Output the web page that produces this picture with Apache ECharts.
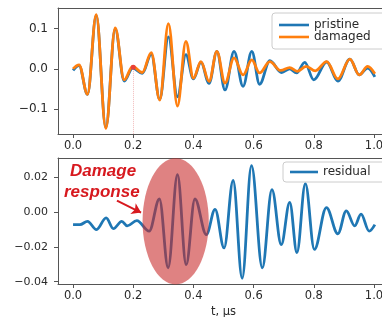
<!DOCTYPE html>
<html><head><meta charset="utf-8">
<script src="https://cdn.jsdelivr.net/npm/echarts@6/dist/echarts.min.js"></script>
<style>html,body{margin:0;padding:0;background:#fff;}#c{width:382px;height:317px;}</style>
</head><body><div id="c"></div>
<script>
// ---- data ----
const xTicks = [0, 0.2, 0.4, 0.6, 0.8, 1.0];
const topYTicks = [-0.1, 0, 0.1];
const botYTicks = [-0.04, -0.02, 0, 0.02];

const pristineT = [0, 0.02, 0.048, 0.077, 0.109, 0.14, 0.17, 0.198, 0.23, 0.26, 0.288, 0.317, 0.347, 0.375, 0.40, 0.425, 0.452, 0.478, 0.505, 0.535, 0.565, 0.594, 0.62, 0.654, 0.693, 0.72, 0.743, 0.77, 0.80, 0.843, 0.88, 0.92, 0.951, 0.979, 1.003];
const pristineV = [-0.004, 0.008, -0.063, 0.132, -0.145, 0.099, -0.03, 0.002, -0.011, 0.036, -0.075, 0.079, -0.069, 0.035, -0.025, 0.016, -0.036, 0.043, -0.052, 0.043, -0.043, 0.043, -0.038, 0.02, -0.009, 0.0, -0.01, 0.016, -0.027, 0.017, -0.03, 0.024, -0.015, 0.002, -0.02];

const damagedT = [0, 0.02, 0.048, 0.077, 0.109, 0.14, 0.17, 0.198, 0.23, 0.26, 0.288, 0.317, 0.347, 0.375, 0.40, 0.425, 0.452, 0.478, 0.505, 0.535, 0.565, 0.594, 0.62, 0.654, 0.69, 0.72, 0.745, 0.775, 0.805, 0.843, 0.88, 0.92, 0.951, 0.979, 1.003];
const damagedV = [0, 0.01, -0.063, 0.134, -0.147, 0.101, -0.027, 0.006, -0.009, 0.04, -0.077, 0.112, -0.092, 0.068, -0.023, 0.018, -0.031, 0.043, -0.035, 0.027, -0.015, 0.022, -0.01, 0.018, -0.004, 0.003, -0.006, 0.006, -0.005, 0.018, -0.025, 0.024, -0.015, 0.006, -0.012];

const residualT = [0, 0.023, 0.048, 0.078, 0.11, 0.134, 0.162, 0.18, 0.212, 0.253, 0.287, 0.316, 0.347, 0.376, 0.405, 0.443, 0.472, 0.502, 0.532, 0.562, 0.593, 0.629, 0.661, 0.692, 0.72, 0.744, 0.772, 0.802, 0.842, 0.88, 0.908, 0.936, 0.957, 0.984, 1.003];
const residualV = [-0.0073, -0.0073, -0.0054, -0.0101, -0.0034, -0.0096, -0.0054, -0.008, -0.005, -0.011, 0.0074, -0.032, 0.0214, -0.0302, 0.0074, -0.013, 0.0015, -0.0206, 0.018, -0.038, 0.0265, -0.032, 0.0128, -0.0187, 0.0055, -0.0233, 0.0162, -0.0215, 0.0025, -0.0125, 0.0006, -0.008, -0.0013, -0.011, -0.0073];

// annotation positions (data units)
const ellipseCenter = [0.341, -0.0054];
const ellipseRadius = [0.11, 0.0362];
const arrowFrom = [0.146, 0.0065];
const arrowTo = [0.226, -0.0004];
const markerT = 0.2;

// ---- chart ----
const zip = (a, b) => a.map((t, i) => [t, b[i]]);
const minus = s => s.replace('-', '\u2212');
const FONT = 'DejaVu Sans';
const frameColor = '#555';
const textColor = '#2a2a2a';
const XMIN = -0.05, XMAX = 1.05;

function xAxisBottom(idx, withName) {
  return {
    gridIndex: idx, type: 'value', min: XMIN, max: XMAX, position: 'bottom',
    axisLine: { show: true, onZero: false, lineStyle: { color: frameColor, width: 1 } },
    axisTick: { show: true, length: 4, customValues: xTicks, lineStyle: { color: frameColor } },
    axisLabel: { customValues: xTicks, formatter: v => v.toFixed(1), fontSize: 11.5, color: textColor, margin: 6, fontFamily: FONT },
    splitLine: { show: false },
    name: withName ? 't, \u00b5s' : '',
    nameLocation: 'middle', nameGap: 22,
    nameTextStyle: { fontSize: 11.5, color: textColor, fontFamily: FONT }
  };
}
function xAxisTop(idx) {
  return {
    gridIndex: idx, type: 'value', min: XMIN, max: XMAX, position: 'top',
    axisLine: { show: true, onZero: false, lineStyle: { color: frameColor, width: 1 } },
    axisTick: { show: false }, axisLabel: { show: false }, splitLine: { show: false }
  };
}
function yAxis(idx, min, max, ticks, dec, fs) {
  return {
    gridIndex: idx, type: 'value', min: min, max: max,
    axisLine: { show: true, onZero: false, lineStyle: { color: frameColor, width: 1 } },
    axisTick: { show: true, length: 4, customValues: ticks, lineStyle: { color: frameColor } },
    axisLabel: { customValues: ticks, formatter: v => minus((Math.abs(v) < 1e-9 ? 0 : v).toFixed(dec)), fontSize: fs, color: textColor, margin: 10, fontFamily: FONT },
    splitLine: { show: false }
  };
}
const legendBase = {
  orient: 'vertical', borderColor: '#ccc', borderWidth: 1, borderRadius: 3,
  backgroundColor: 'rgba(255,255,255,0.85)', icon: 'rect',
  textStyle: { fontSize: 12, color: textColor, fontFamily: FONT },
  itemWidth: 30, itemHeight: 2.6, itemGap: 0
};
const lineSeries = (name, xi, yi, data, color, z) => ({
  type: 'line', name: name, xAxisIndex: xi, yAxisIndex: yi, data: data,
  smooth: 0.36, smoothMonotone: 'x', symbol: 'none', z: z,
  lineStyle: { color: color, width: 2.8 }, itemStyle: { color: color }
});

const chart = echarts.init(document.getElementById('c'), null, { renderer: 'canvas' });
const gridBase = { left: 58, width: 331, height: 126, show: false, outerBoundsMode: 'none', containLabel: false };
chart.setOption({
  animation: false,
  backgroundColor: '#fff',
  grid: [Object.assign({ top: 8 }, gridBase), Object.assign({ top: 158 }, gridBase)],
  xAxis: [xAxisBottom(0, false), xAxisTop(0), xAxisBottom(1, true), xAxisTop(1)],
  yAxis: [yAxis(0, -0.161, 0.1504, topYTicks, 1, 12), yAxis(1, -0.0413, 0.0309, botYTicks, 2, 11)],
  legend: [
    Object.assign({}, legendBase, { data: ['pristine', 'damaged'], left: 272, top: 13, padding: [6, 20, 6, 7] }),
    Object.assign({}, legendBase, { data: ['residual'], left: 283, top: 162, padding: [4, 20, 4, 7], itemWidth: 28 })
  ],
  series: [
    lineSeries('pristine', 0, 0, zip(pristineT, pristineV), '#1f77b4', 2),
    Object.assign(lineSeries('damaged', 0, 0, zip(damagedT, damagedV), '#ff7f0e', 3), {
      markLine: { silent: true, symbol: 'none', label: { show: false },
        lineStyle: { color: 'rgba(230,120,120,0.5)', type: 'dotted', width: 1 },
        data: [[{ coord: [markerT, 0] }, { coord: [markerT, -0.161] }]] },
      markPoint: { silent: true, symbol: 'circle', symbolSize: 5, label: { show: false },
        itemStyle: { color: '#e8403a' }, data: [{ coord: [markerT, 0.004] }] } }),
    Object.assign(lineSeries('residual', 2, 1, zip(residualT, residualV), '#1f77b4', 2), {
      markLine: { silent: true, symbol: ['none', 'arrow'], symbolSize: 9, label: { show: false },
        lineStyle: { color: '#d7191f', type: 'solid', width: 2 },
        data: [[{ coord: arrowFrom }, { coord: arrowTo }]] } })
  ]
});

const c = chart.convertToPixel({ xAxisIndex: 2, yAxisIndex: 1 }, ellipseCenter);
const e = chart.convertToPixel({ xAxisIndex: 2, yAxisIndex: 1 }, [ellipseCenter[0] + ellipseRadius[0], ellipseCenter[1] + ellipseRadius[1]]);
chart.setOption({
  graphic: [
    { type: 'ellipse', z: 100, silent: true, shape: { cx: c[0], cy: c[1], rx: Math.abs(e[0] - c[0]), ry: Math.abs(c[1] - e[1]) },
      style: { fill: 'rgba(200,40,40,0.58)' } },
    { type: 'text', z: 101, silent: true, x: 70, y: 171, style: { text: 'Damage', fill: '#d7191f', font: 'italic bold 17px "Liberation Sans"', verticalAlign: 'middle', align: 'left' } },
    { type: 'text', z: 101, silent: true, x: 64, y: 192, style: { text: 'response', fill: '#d7191f', font: 'italic bold 17px "Liberation Sans"', verticalAlign: 'middle', align: 'left' } }
  ]
});
</script>
</body></html>
